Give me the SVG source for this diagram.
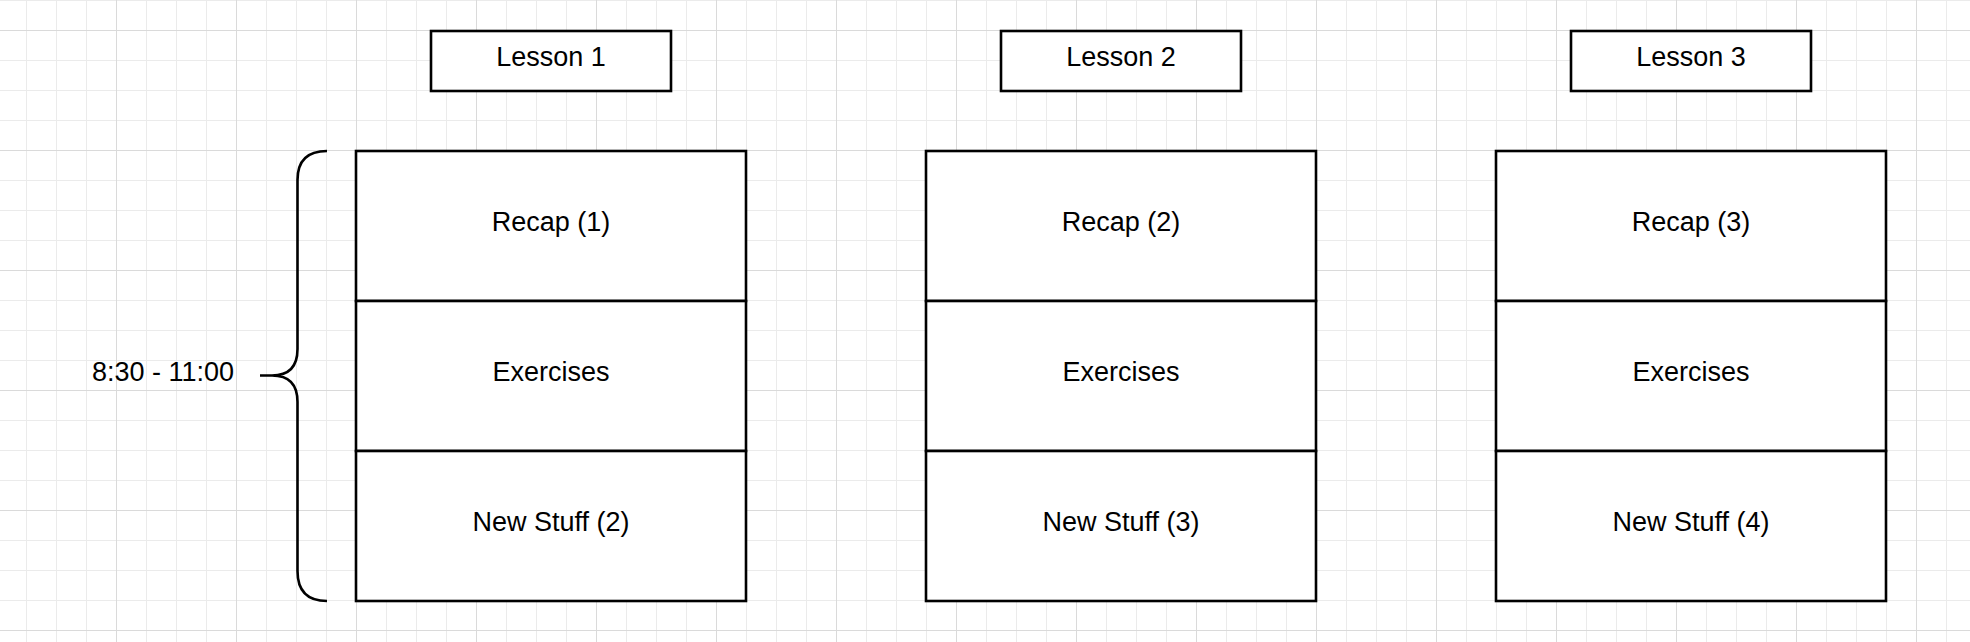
<svg xmlns="http://www.w3.org/2000/svg" width="1970" height="642" viewBox="0 0 1970 642">
  <style>
    .box { fill: #ffffff; stroke: #000000; stroke-width: 2.6; }
    .brace { fill: none; stroke: #000000; stroke-width: 2.6; stroke-linecap: butt; stroke-linejoin: miter; }
    .lbl { font-family: "Liberation Sans", Arial, sans-serif; font-size: 27px; fill: #000000; text-anchor: middle; }
  </style>
  <defs>
    <pattern id="minor" patternUnits="userSpaceOnUse" x="26" y="0" width="30" height="30">
      <path d="M0.5,0 V30 M0,0.5 H30" stroke="#ebebeb" stroke-width="1" fill="none"/>
    </pattern>
    <pattern id="major" patternUnits="userSpaceOnUse" x="116" y="30" width="120" height="120">
      <path d="M0.5,0 V120 M0,0.5 H120" stroke="#dadada" stroke-width="1" fill="none"/>
    </pattern>
  </defs>
  <rect x="0" y="0" width="1970" height="642" fill="#ffffff"/>
  <rect x="0" y="0" width="1970" height="642" fill="url(#minor)"/>
  <rect x="0" y="0" width="1970" height="642" fill="url(#major)"/>

  <g id="connectors"></g>

  <g id="brace">
    <path class="brace" d="M327,151 Q297.5,151 297.5,180 V349 Q297.5,375.5 272,375.5 H260 M272,375.5 Q297.5,375.5 297.5,402 V571 Q297.5,601 327,601"/>
  </g>
  <g id="time-label">
    <text class="lbl" x="163" y="381">8:30 - 11:00</text>
  </g>

  <!-- Lesson 1 -->
  <g id="lesson1-header">
    <rect class="box" x="431" y="31" width="240" height="60"/>
    <text class="lbl" x="551" y="65.5">Lesson 1</text>
  </g>
  <g id="lesson1-recap">
    <rect class="box" x="356" y="151" width="390" height="150"/>
    <text class="lbl" x="551" y="230.5">Recap (1)</text>
  </g>
  <g id="lesson1-exercises">
    <rect class="box" x="356" y="301" width="390" height="150"/>
    <text class="lbl" x="551" y="380.5">Exercises</text>
  </g>
  <g id="lesson1-new">
    <rect class="box" x="356" y="451" width="390" height="150"/>
    <text class="lbl" x="551" y="530.5">New Stuff (2)</text>
  </g>

  <!-- Lesson 2 -->
  <g id="lesson2-header">
    <rect class="box" x="1001" y="31" width="240" height="60"/>
    <text class="lbl" x="1121" y="65.5">Lesson 2</text>
  </g>
  <g id="lesson2-recap">
    <rect class="box" x="926" y="151" width="390" height="150"/>
    <text class="lbl" x="1121" y="230.5">Recap (2)</text>
  </g>
  <g id="lesson2-exercises">
    <rect class="box" x="926" y="301" width="390" height="150"/>
    <text class="lbl" x="1121" y="380.5">Exercises</text>
  </g>
  <g id="lesson2-new">
    <rect class="box" x="926" y="451" width="390" height="150"/>
    <text class="lbl" x="1121" y="530.5">New Stuff (3)</text>
  </g>

  <!-- Lesson 3 -->
  <g id="lesson3-header">
    <rect class="box" x="1571" y="31" width="240" height="60"/>
    <text class="lbl" x="1691" y="65.5">Lesson 3</text>
  </g>
  <g id="lesson3-recap">
    <rect class="box" x="1496" y="151" width="390" height="150"/>
    <text class="lbl" x="1691" y="230.5">Recap (3)</text>
  </g>
  <g id="lesson3-exercises">
    <rect class="box" x="1496" y="301" width="390" height="150"/>
    <text class="lbl" x="1691" y="380.5">Exercises</text>
  </g>
  <g id="lesson3-new">
    <rect class="box" x="1496" y="451" width="390" height="150"/>
    <text class="lbl" x="1691" y="530.5">New Stuff (4)</text>
  </g>
</svg>
